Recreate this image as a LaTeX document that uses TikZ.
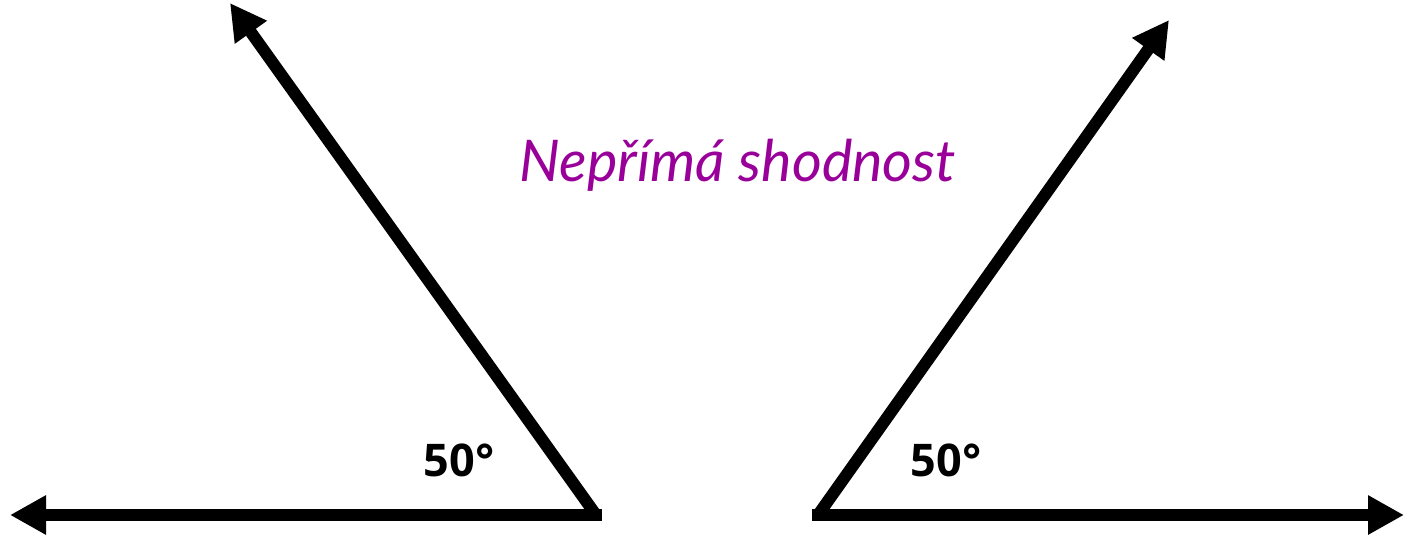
\documentclass[tikz,border=0pt]{standalone}
\usepackage{fontspec}
\setmainfont{Lato}
\newfontfamily\labelfont{Open Sans}
\usetikzlibrary{arrows.meta}
\definecolor{titlepurple}{RGB}{153,0,153}
\tikzset{
  ray/.style={line width=12bp, -{Triangle[length=36bp,width=37bp]}},
  anglabel/.style={font=\labelfont\bfseries\fontsize{45bp}{45bp}\selectfont, inner sep=0pt, anchor=center},
  titletext/.style={font=\itshape\fontsize{57.5bp}{57.5bp}\selectfont, text=titlepurple, inner sep=0pt, anchor=base}
}
\begin{document}
\begin{tikzpicture}[x=1bp,y=-1bp]
  \useasboundingbox (0,0) rectangle (1410,536);
  % left angle
  \coordinate (vL) at (596,515);
  \coordinate (hL) at (10,515);
  \coordinate (sL) at (230,3);
  \draw[ray, line cap=rect] (vL) -- (hL);
  \draw[ray] (vL) -- (sL);
  % right angle
  \coordinate (vR) at (818,515);
  \coordinate (hR) at (1404,515);
  \coordinate (sR) at (1169,20);
  \draw[ray, line cap=rect] (vR) -- (hR);
  \draw[ray] (vR) -- (sR);
  % labels
  \node[anglabel] (aL) at (459,460) {50°};
  \node[anglabel] (aR) at (946,460) {50°};
  \node[titletext] (t) at (738,182) {Nepřímá shodnost};
\end{tikzpicture}
\end{document}
